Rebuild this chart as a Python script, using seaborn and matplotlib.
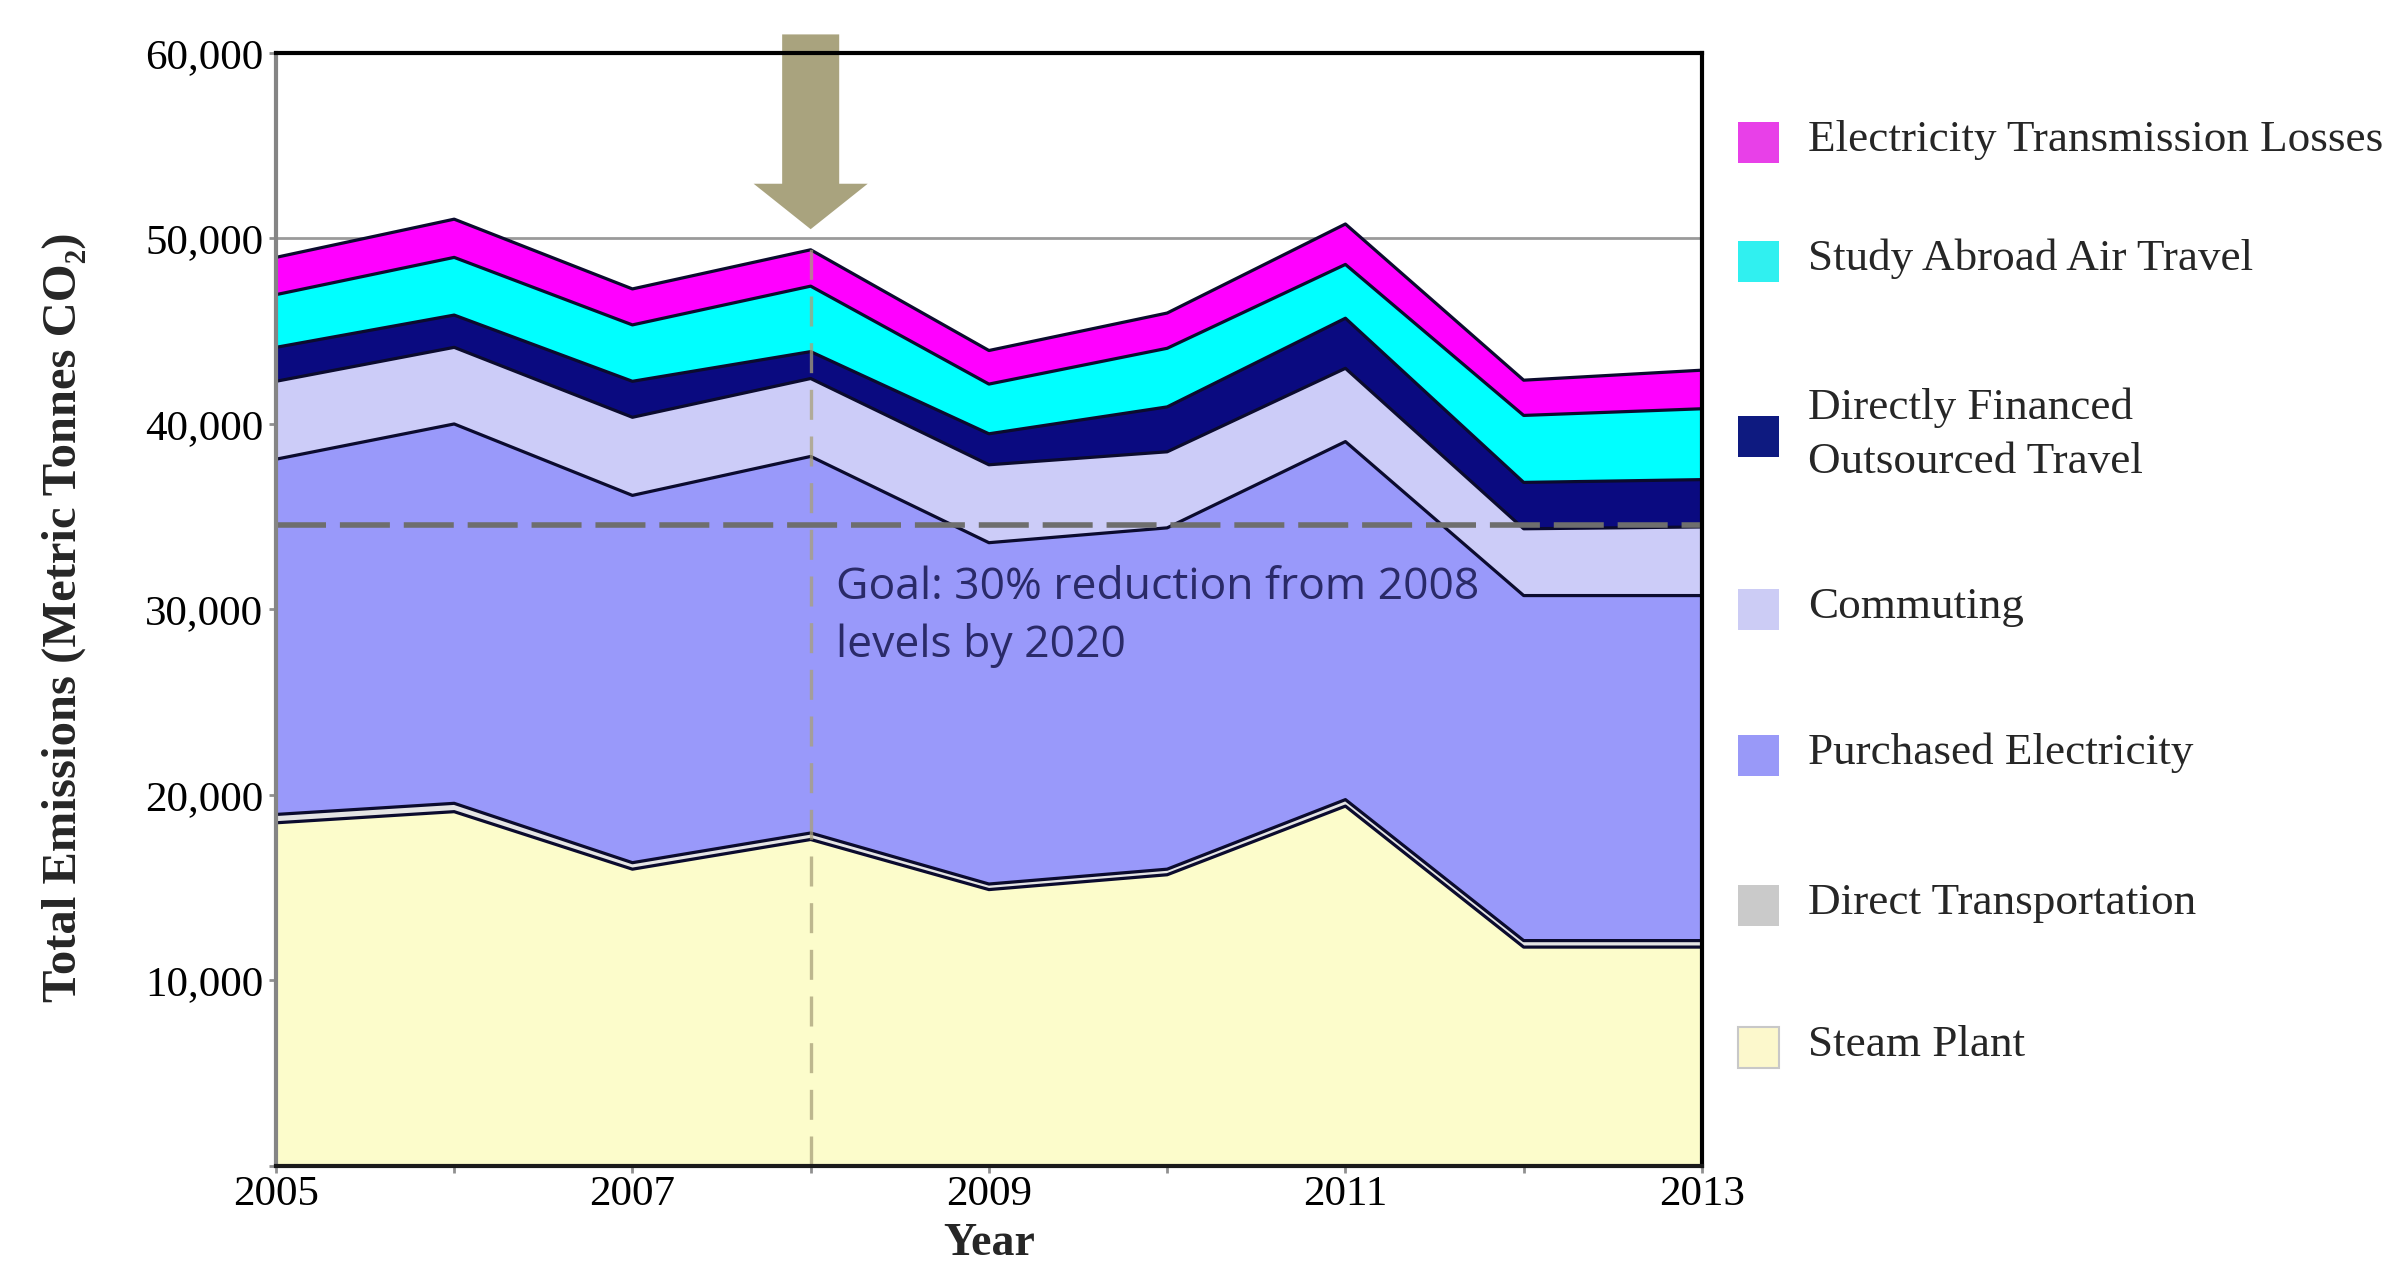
import numpy as np
import pandas as pd
import matplotlib
matplotlib.use("Agg")
import matplotlib.pyplot as plt
from matplotlib.patches import Rectangle, FancyArrow
import seaborn as sns

# ---------------- data ----------------
years = [2005, 2006, 2007, 2008, 2009, 2010, 2011, 2012, 2013]
steam_plant = [18500, 19100, 16000, 17600, 14900, 15700, 19400, 11800, 11800]
direct_transportation = [450, 450, 350, 350, 300, 300, 350, 350, 350]
purchased_electricity = [19150, 20450, 19800, 20300, 18400, 18400, 19300, 18600, 18600]
commuting = [4200, 4130, 4210, 4200, 4200, 4100, 3950, 3600, 3700]
directly_financed = [1830, 1740, 1940, 1450, 1670, 2420, 2700, 2500, 2550]
study_abroad = [2840, 3110, 3040, 3530, 2680, 3160, 2900, 3610, 3820]
transmission_losses = [2010, 2060, 1940, 1960, 1810, 1900, 2180, 1900, 2080]

series_names = ["Steam Plant", "Direct Transportation", "Purchased Electricity",
                "Commuting", "Directly Financed\nOutsourced Travel",
                "Study Abroad Air Travel", "Electricity Transmission Losses"]
series_values = [steam_plant, direct_transportation, purchased_electricity,
                 commuting, directly_financed, study_abroad, transmission_losses]
fill_colors = ["#FCFCCB", "#E4E4E4", "#9999FA", "#CCCCF8", "#0A0A80", "#00FFFF", "#FF00FF"]
legend_colors = ["#FCF8CC", "#CACACA", "#9999F8", "#CCCCF5", "#0E1A80", "#30F0F0", "#E840E8"]

y_ticks = [0, 10000, 20000, 30000, 40000, 50000, 60000]
y_ticklabels = ["", "10,000", "20,000", "30,000", "40,000", "50,000", "60,000"]
x_ticklabels = ["2005", "", "2007", "", "2009", "", "2011", "", "2013"]

goal_year = 2008
goal_reduction = 0.30
goal_lines = ["Goal: 30% reduction from 2008", "levels by 2020"]

# ---------------- style ----------------
sns.set_theme(style="white")
serif = ["Liberation Serif", "DejaVu Serif"]
plt.rcParams["font.family"] = serif

fig = plt.figure(figsize=(23.89, 12.70), dpi=100)
ax = fig.add_axes([0.1155, 0.0819, 0.5969, 0.8764])

# gridlines (only visible above the stacks)
ax.set_axisbelow(True)
ax.yaxis.grid(True, color="#9a9a9a", linewidth=2.0)
ax.xaxis.grid(False)

ax.stackplot(years, *series_values, colors=fill_colors, linewidth=0, zorder=2)

cum = np.cumsum(np.array(series_values, dtype=float), axis=0)
for i in range(cum.shape[0]):
    sns.lineplot(x=years, y=cum[i], ax=ax, color="#0b0b2e", linewidth=2.3,
                 zorder=3, legend=False)

# goal line
idx = years.index(goal_year)
goal_level = cum[-1, idx] * (1 - goal_reduction)
ax.axhline(goal_level, color="#6e6e6e", linewidth=4.0, dashes=(9, 2.5), zorder=4)

# vertical dashed marker at 2008
ax.plot([goal_year, goal_year], [0, 50000], color="#a8a07a", alpha=0.75,
        linewidth=2.4, dashes=(9, 5), zorder=4)

# arrow
arrow = FancyArrow(goal_year, 61000, 0, -10500, width=0.32, head_width=0.64,
                   head_length=2450, length_includes_head=True,
                   color="#a9a37e", clip_on=False, zorder=6, linewidth=0)
ax.add_patch(arrow)

sans = ["Open Sans", "DejaVu Sans"]
ax.text(2008.14, 31150, goal_lines[0], fontsize=32, family=sans,
        color="#2a2a68", va="center", ha="left", zorder=5)
ax.text(2008.14, 28050, goal_lines[1], fontsize=32, family=sans,
        color="#2a2a68", va="center", ha="left", zorder=5)

ax.set_xlim(2005, 2013)
ax.set_ylim(0, 60000)
ax.set_yticks(y_ticks)
ax.set_yticklabels(y_ticklabels)
ax.set_xticks(years)
ax.set_xticklabels(x_ticklabels)
ax.tick_params(axis="both", which="major", labelsize=31, colors="#000000",
               length=5, width=2, pad=4)
ax.tick_params(axis="both", color="#909090")
ax.tick_params(axis="x", bottom=True, pad=2)
ax.tick_params(axis="y", left=True)

for name, sp in ax.spines.items():
    sp.set_visible(True)
    sp.set_zorder(7)
ax.spines["left"].set_color("#858585")
ax.spines["left"].set_linewidth(3)
ax.spines["bottom"].set_color("#1a1a1a")
ax.spines["bottom"].set_linewidth(3)
ax.spines["top"].set_color("#000000")
ax.spines["top"].set_linewidth(3)
ax.spines["right"].set_color("#000000")
ax.spines["right"].set_linewidth(3)

ax.set_xlabel("")
ax.set_ylabel("")
fig.text(0.0268, 0.514, "Total Emissions (Metric Tonnes CO\u2082)", rotation=90,
         fontsize=35, fontweight="bold", ha="center", va="center", family=serif)
fig.text(0.4139, 0.004, "Year", fontsize=33, fontweight="bold",
         ha="center", va="bottom", family=serif)

# legend (manual, right side)
legend_rows = [0.888, 0.794, 0.656, 0.520, 0.405, 0.287, 0.175]
pw, ph = 0.0172, 0.0323
for k, row in enumerate(legend_rows):
    j = len(series_names) - 1 - k
    ec = "#c8c8c8" if j == 0 else "none"
    fig.add_artist(Rectangle((0.7275, row - ph / 2), pw, ph, transform=fig.transFigure,
                             facecolor=legend_colors[j], edgecolor=ec, linewidth=1.5))
    fig.text(0.757, row + 0.002, series_names[j], fontsize=32.5, ha="left", va="center",
             family=serif, linespacing=1.45)

fig.savefig("out.png", dpi=100)
